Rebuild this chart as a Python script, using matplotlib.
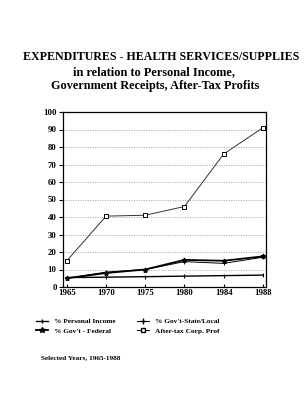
import matplotlib.pyplot as plt
from matplotlib.lines import Line2D

years = ['1965', '1970', '1975', '1980', '1984', '1988']
personal_income = [5.4, 5.6, 5.9, 6.2, 6.5, 6.8]
govt_federal = [5.0, 8.0, 10.0, 15.5, 15.0, 17.5]
govt_state_local = [5.0, 8.5, 10.0, 14.5, 13.5, 17.0]
after_tax_profits = [15.0, 40.5, 41.0, 46.0, 76.0, 91.0]

plt.rcParams['font.family'] = ['Liberation Serif', 'DejaVu Serif']

fig = plt.figure(figsize=(3.04, 4.0), dpi=100)
fig.patch.set_facecolor('white')

fig.text(0.53, 0.858, 'EXPENDITURES - HEALTH SERVICES/SUPPLIES', ha='center', va='center',
         fontsize=8.6, weight='bold')
fig.text(0.505, 0.819, 'in relation to Personal Income,', ha='center', va='center',
         fontsize=8.8, weight='bold')
fig.text(0.51, 0.785, 'Government Receipts, After-Tax Profits', ha='center', va='center',
         fontsize=8.8, weight='bold')

ax = fig.add_axes([0.207, 0.2825, 0.668, 0.4375])
x = list(range(len(years)))

ax.plot(x, personal_income, color='black', lw=1.0, marker='|', ms=2.5, mew=0.8)
ax.plot(x, govt_federal, color='black', lw=1.3, marker='*', ms=3.5)
ax.plot(x, govt_state_local, color='black', lw=0.7, marker='+', ms=3.5, mew=0.7)
ax.plot(x, after_tax_profits, color='#333333', lw=0.7, marker='s', ms=3.2,
        mfc='white', mec='black', mew=0.7)

ax.set_xlim(-0.1, 5.08)
ax.set_ylim(0, 100)
ax.set_xticks(x)
ax.set_xticklabels(years)
ax.set_yticks(range(0, 101, 10))
ax.tick_params(axis='both', labelsize=6.3, length=3, width=0.8, pad=1.5)
for lbl in ax.get_xticklabels() + ax.get_yticklabels():
    lbl.set_fontweight('bold')
ax.tick_params(axis='x', direction='in', length=2)
for y in range(10, 100, 10):
    ax.axhline(y, color='#888888', lw=0.5, ls=(0, (1.5, 2)), zorder=0)
for s in ax.spines.values():
    s.set_linewidth(0.9)

handles = [
    Line2D([], [], color='black', lw=1.0, marker='|', ms=3),
    Line2D([], [], color='black', lw=1.3, marker='*', ms=4),
    Line2D([], [], color='black', lw=0.7, marker='+', ms=5),
    Line2D([], [], color='black', lw=0.7, marker='s', ms=3.5, mfc='white'),
]
labels = ['% Personal Income', "% Gov't - Federal", "% Gov't-State/Local", 'After-tax Corp. Prof']
fig.legend(handles, labels, ncol=2, loc='center', bbox_to_anchor=(0.42, 0.185),
           frameon=False, handlelength=1.6, columnspacing=3.0,
           handletextpad=0.8, prop={'weight': 'bold', 'size': 5.3})

fig.text(0.135, 0.107, 'Selected Years, 1965-1988', fontsize=5.2, weight='bold', va='center')

fig.savefig('out.png', dpi=100)
